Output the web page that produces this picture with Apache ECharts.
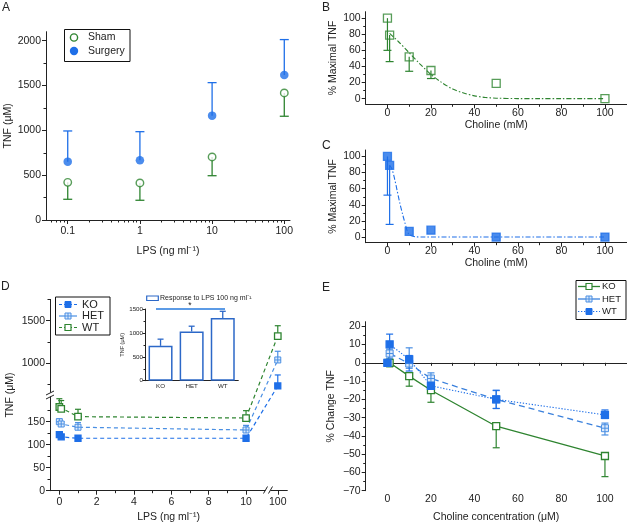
<!DOCTYPE html>
<html><head><meta charset="utf-8">
<script src="https://cdn.jsdelivr.net/npm/echarts@6/dist/echarts.min.js"></script>
<style>html,body{margin:0;padding:0;background:#fff}#c{width:627px;height:524px}</style>
</head><body><div id="c"></div>
<script>
// ---------- Panel A ----------
const lpsA = [0.1, 1, 10, 100];
const shamTNF = [420, 413, 703, 1417];
const shamLow = [231, 220, 494, 1157];
const surgeryTNF = [651, 666, 1164, 1618];
const surgeryHigh = [993, 985, 1532, 2012];
const ticksA_Y = [0, 500, 1000, 1500, 2000];
const minorA_Y = [250, 750, 1250, 1750];
const ticksA_X = [0.1, 1, 10, 100];
const minorA_X = [0.06,0.07,0.08,0.09,0.2,0.3,0.4,0.5,0.6,0.7,0.8,0.9,2,3,4,5,6,7,8,9,20,30,40,50,60,70,80,90];
// ---------- Panel B ----------
const cholineB = [0, 1, 10, 20, 50, 100];
const maxTNF_B = [100, 79, 52, 35, 19, 0];
const lowB = [60, 46, 34, 25, null, null];
const fitB_x = [1, 5, 10, 15, 20, 25, 30, 35, 40, 45, 50, 60, 70, 80, 90, 100];
const fitB_y = [81, 71, 57, 43, 30, 20, 12, 7, 3.5, 1.5, 0.6, 0.1, 0, 0, 0, 0];
// ---------- Panel C ----------
const cholineC = [0, 1, 10, 20, 50, 100];
const maxTNF_C = [100, 89, 7, 8.5, 0, 0];
const lowC = [52, 15.7, null, null, null, null];
const fitC_x = [1, 2, 3.4, 4.5, 5.7, 7, 8, 9.5, 11, 13, 16, 30, 50, 70, 100];
const fitC_y = [89, 85, 71, 57, 42, 28, 18, 5, 1.5, 0.3, 0, 0, 0, 0, 0];
const ticksBC_X = [0, 20, 40, 60, 80, 100];
const minorBC_X = [10, 30, 50, 70, 90];
const ticksBC_Y = [0, 20, 40, 60, 80, 100];
const minorBC_Y = [10, 30, 50, 70, 90];
// ---------- Panel D ----------
const lpsD = [0, 0.1, 1, 10, 100];
const koD = [122, 117, 114, 114, 734];
const koD_hi = [126, 121, 117, 117, 863];
const hetD = [150, 145, 138, 132, 1039];
const hetD_hi = [156, 150, 148, 142, 1141];
const wtD = [182, 178, 161, 158, 1320];
const wtD_hi = [200, 196, 177, 174, 1441];
const ticksD_Y = [0, 50, 100, 150, 1000, 1500];
const minorD_Y = [25, 75, 125, 175, 750, 1250, 1750];
const ticksD_X = [0, 2, 4, 6, 8, 10, 100];
const minorD_X = [1, 3, 5, 7, 9];
// inset
const insetCats = ['KO', 'HET', 'WT'];
const insetTNF = [729, 1029, 1313];
const insetHi = [869, 1140, 1452];
// ---------- Panel E ----------
const cholE = [0, 1, 10, 20, 50, 100];
const koE = [null, 0, -7.3, -15, -34.7, -51];
const koE_lo = [null, -2.2, -12.8, -21.6, -46.5, -62.3];
const hetE = [0, 5.1, -0.4, -8.6, -20, -35.8];
const hetE_hi = [null, 7.5, 8.2, -5.5, -15.2, -33];
const hetE_lo = [null, 2.5, -3, -11.5, -25, -39.5];
const wtE = [0, 10.1, 1.9, -12.6, -20, -28.5];
const wtE_hi = [null, 15.7, 4, -10.5, -15, -25.8];
const wtE_lo = [null, 4.5, -4.5, -14.5, -25, -30.5];
const ticksE_Y = [-70, -60, -50, -40, -30, -20, -10, 0, 10, 20];
const minorE_Y = [-65, -55, -45, -35, -25, -15, -5, 5, 15];
const ticksE_X = [0, 20, 40, 60, 80, 100];
const zeroTicksE_X = [0, 10, 20, 30, 40, 50, 60, 70, 80, 90, 100];

// ---------- helpers ----------
const FONT = '"Liberation Sans", Arial, sans-serif';
const GREEN = '#2e8430', BLUE = '#1e6fe8', LBLUE = '#4a8fe3', AX = '#222';
const HETPATH = 'path://M0 0H10V10H0Z M5 0V10 M0 5H10';
const plain = v => String(v);

// D panel broken-axis transforms (display units)
function dY(v) { return v <= 400 ? v : 277 + (v - 1000) * 0.1852; }
function invY(d) { return d <= 250 ? d : 1000 + (d - 277) / 0.1852; }
function dX(v) { return v <= 10.5 ? v : 11.7 + (v - 100) * 0.01; }
function invX(d) { return d <= 10.5 ? d : 100; }

function ax(gi, min, max, ticks, labels, fmt, o) {
  o = o || {};
  return {
    type: 'value', gridIndex: gi, min: min, max: max, position: o.position,
    axisLine: {show: o.line !== false, onZero: !!o.onZero, onZeroAxisIndex: o.onZeroAxisIndex,
      lineStyle: {color: AX, width: 1}},
    axisTick: {show: !!ticks, customValues: ticks || undefined, length: o.tickLen || 4,
      lineStyle: {color: AX, width: 1}},
    axisLabel: {show: !!labels, customValues: labels || undefined, formatter: fmt || plain, color: AX,
      fontSize: o.fs || 10.5, fontFamily: FONT, margin: (o.margin != null ? o.margin : 5)},
    splitLine: {show: false},
    name: o.name, nameLocation: 'middle', nameGap: o.nameGap, nameRotate: o.nameRotate,
    nameTextStyle: {color: AX, fontSize: o.nfs || 10.5, fontFamily: FONT}
  };
}
function minor(gi, min, max, ticks, pos) {
  return ax(gi, min, max, ticks, null, null, {line: false, tickLen: 2.5, position: pos});
}
function errBars(xi, yi, rowsData, color, cap, lw) {
  return {
    type: 'custom', xAxisIndex: xi, yAxisIndex: yi, z: 1, silent: true, data: rowsData,
    renderItem: function (p, api) {
      const a = api.coord([api.value(0), api.value(1)]);
      const b = api.coord([api.value(0), api.value(2)]);
      const s = {stroke: color, lineWidth: lw || 1.2};
      return {type: 'group', children: [
        {type: 'line', shape: {x1: a[0], y1: a[1], x2: b[0], y2: b[1]}, style: s},
        {type: 'line', shape: {x1: b[0] - cap / 2, y1: b[1], x2: b[0] + cap / 2, y2: b[1]}, style: s}
      ]};
    }
  };
}
function rows(xs, ys, ends, fx, fy) {
  fx = fx || (v => v); fy = fy || (v => v);
  const r = [];
  xs.forEach((x, i) => { if (ends[i] != null && ys[i] != null) r.push([fx(x), fy(ys[i]), fy(ends[i])]); });
  return r;
}
function pairs(xs, ys, fx, fy) {
  fx = fx || (v => v); fy = fy || (v => v);
  return xs.map((x, i) => [fx(x), ys[i] == null ? null : fy(ys[i])]).filter(p => p[1] != null);
}
const log10 = v => Math.log10(v);
const fmtLog = v => String(+Math.pow(10, v).toPrecision(2));

// ---------- grids ----------
const grids = [
  {left: 46, top: 31.7, width: 244, height: 188.3},
  {left: 365.7, top: 11.7, width: 261, height: 92.6},
  {left: 365.7, top: 150, width: 261, height: 92.7},
  {left: 50, top: 299.4, width: 237.3, height: 191.3},
  {left: 145, top: 309, width: 93.3, height: 71.7},
  {left: 365.7, top: 321.7, width: 261, height: 169}
];

const xAxes = [
  ax(0, log10(0.05), log10(120), ticksA_X.map(log10), ticksA_X.map(log10), fmtLog,
     {name: 'LPS (ng ml\u207B\u00B9)', nameGap: 26, margin: 6}),
  minor(0, log10(0.05), log10(120), minorA_X.map(log10), 'bottom'),
  ax(1, -10, 110, ticksBC_X, ticksBC_X, null, {name: 'Choline (mM)', nameGap: 14, margin: 3}),
  minor(1, -10, 110, minorBC_X, 'bottom'),
  ax(2, -10, 110, ticksBC_X, ticksBC_X, null, {name: 'Choline (mM)', nameGap: 14, margin: 3}),
  minor(2, -10, 110, minorBC_X, 'bottom'),
  ax(3, -0.5, 12.21, ticksD_X.map(dX), ticksD_X.map(dX), v => String(Math.round(invX(v))),
     {name: 'LPS (ng ml\u207B\u00B9)', nameGap: 21, margin: 6}),
  minor(3, -0.5, 12.21, minorD_X.map(dX), 'bottom'),
  {type: 'category', gridIndex: 4, data: insetCats, boundaryGap: true,
   axisLine: {onZero: false, lineStyle: {color: AX, width: 1}}, axisTick: {show: false},
   axisLabel: {color: AX, fontSize: 6.2, fontFamily: FONT, margin: 3}, splitLine: {show: false}},
  ax(5, -10, 110, null, ticksE_X, null, {line: false, position: 'bottom',
     name: 'Choline concentration (\u03BCM)', nameGap: 21, margin: 3}),
  ax(5, -10, 110, zeroTicksE_X, null, null, {position: 'bottom', onZero: true, onZeroAxisIndex: 9, tickLen: 3})
];

const yAxes = [
  ax(0, 0, 2100, ticksA_Y, ticksA_Y, null, {name: 'TNF (\u03BCM)', nameGap: 32, nameRotate: 90}),
  minor(0, 0, 2100, minorA_Y, 'left'),
  ax(1, -7, 108, ticksBC_Y, ticksBC_Y, null, {name: '% Maximal TNF', nameGap: 27, nameRotate: 90}),
  minor(1, -7, 108, minorBC_Y, 'left'),
  ax(2, -7, 108, ticksBC_Y, ticksBC_Y, null, {name: '% Maximal TNF', nameGap: 27, nameRotate: 90}),
  minor(2, -7, 108, minorBC_Y, 'left'),
  ax(3, 0, dY(1750), ticksD_Y.map(dY), ticksD_Y.map(dY), v => String(Math.round(invY(v) / 50) * 50),
     {name: 'TNF (\u03BCM)', nameGap: 34, nameRotate: 90}),
  minor(3, 0, dY(1750), minorD_Y.map(dY), 'left'),
  {type: 'value', gridIndex: 4, min: 0, max: 1500, interval: 500,
   axisLine: {show: true, onZero: false, lineStyle: {color: AX, width: 1}},
   axisTick: {show: true, length: 2.5, lineStyle: {color: AX}},
   minorTick: {show: true, splitNumber: 2, length: 1.5, lineStyle: {color: AX}},
   axisLabel: {color: AX, fontSize: 6.2, fontFamily: FONT, margin: 2, formatter: plain},
   splitLine: {show: false},
   name: 'TNF (\u03BCM)', nameLocation: 'middle', nameGap: 18, nameRotate: 90,
   nameTextStyle: {color: AX, fontSize: 5.5, fontFamily: FONT}},
  ax(5, -70, 22.5, ticksE_Y, ticksE_Y, v => String(v).replace('-', '\u2212'),
     {name: '% Change TNF', nameGap: 29, nameRotate: 90}),
  minor(5, -70, 22.5, minorE_Y, 'left')
];

function sq(color, fill, size) {
  return {symbol: 'rect', symbolSize: size, itemStyle: {color: fill, borderColor: color, borderWidth: 1.3}};
}

const series = [
  // ---- A ----
  errBars(0, 0, rows(lpsA, shamTNF, shamLow, log10), GREEN, 9, 1.3),
  errBars(0, 0, rows(lpsA, surgeryTNF, surgeryHigh, log10), BLUE, 9, 1.3),
  {type: 'scatter', xAxisIndex: 0, yAxisIndex: 0, z: 3, data: pairs(lpsA, shamTNF, log10),
   symbol: 'circle', symbolSize: 7.5, itemStyle: {color: '#fff', borderColor: GREEN, borderWidth: 1.4}},
  {type: 'scatter', xAxisIndex: 0, yAxisIndex: 0, z: 3, data: pairs(lpsA, surgeryTNF, log10),
   symbol: 'circle', symbolSize: 8.5, itemStyle: {color: BLUE}},
  // ---- B ----
  {type: 'line', xAxisIndex: 2, yAxisIndex: 2, z: 2, data: pairs(fitB_x, fitB_y), smooth: 0.3,
   showSymbol: false, lineStyle: {color: GREEN, width: 1.1, type: [5, 2, 1.5, 2]}},
  errBars(2, 2, rows(cholineB, maxTNF_B, lowB), GREEN, 8, 1.2),
  Object.assign({type: 'scatter', xAxisIndex: 2, yAxisIndex: 2, z: 3, data: pairs(cholineB, maxTNF_B)},
    sq(GREEN, 'rgba(255,255,255,0)', 8)),
  // ---- C ----
  {type: 'line', xAxisIndex: 4, yAxisIndex: 4, z: 2, data: pairs(fitC_x, fitC_y), smooth: 0.3,
   showSymbol: false, lineStyle: {color: BLUE, width: 1.1, type: [5, 2, 1.5, 2]}},
  errBars(4, 4, rows(cholineC, maxTNF_C, lowC), BLUE, 8, 1.2),
  Object.assign({type: 'scatter', xAxisIndex: 4, yAxisIndex: 4, z: 3, data: pairs(cholineC, maxTNF_C)},
    sq(BLUE, BLUE, 8)),
  // ---- D ----
  errBars(6, 6, rows(lpsD, wtD, wtD_hi, dX, dY), GREEN, 6, 1.2),
  errBars(6, 6, rows(lpsD, hetD, hetD_hi, dX, dY), LBLUE, 6, 1.2),
  errBars(6, 6, rows(lpsD, koD, koD_hi, dX, dY), BLUE, 6, 1.2),
  Object.assign({type: 'line', xAxisIndex: 6, yAxisIndex: 6, z: 3, data: pairs(lpsD, wtD, dX, dY),
   lineStyle: {color: GREEN, width: 1.2, type: [4, 3]}}, sq(GREEN, '#fff', 6.5)),
  {type: 'line', xAxisIndex: 6, yAxisIndex: 6, z: 3, data: pairs(lpsD, hetD, dX, dY),
   lineStyle: {color: LBLUE, width: 1.2, type: [4, 3]}, symbol: HETPATH, symbolSize: 6,
   itemStyle: {color: '#dbe9fb', borderColor: LBLUE, borderWidth: 1}},
  Object.assign({type: 'line', xAxisIndex: 6, yAxisIndex: 6, z: 3, data: pairs(lpsD, koD, dX, dY),
   lineStyle: {color: BLUE, width: 1.2, type: [4, 3]}}, sq(BLUE, BLUE, 6)),
  // inset
  {type: 'bar', xAxisIndex: 8, yAxisIndex: 8, data: insetTNF, barWidth: 24, z: 2,
   itemStyle: {color: '#fff', borderColor: '#2c68c8', borderWidth: 1.5}},
  errBars(8, 8, insetCats.map((c, i) => [i, insetTNF[i], insetHi[i]]), '#2c68c8', 6, 1.3),
  // ---- E ----
  errBars(9, 9, rows(cholE, koE, koE_lo), GREEN, 7, 1.2),
  errBars(9, 9, rows(cholE, hetE, hetE_hi).concat(rows(cholE, hetE, hetE_lo)), LBLUE, 7, 1.2),
  errBars(9, 9, rows(cholE, wtE, wtE_hi).concat(rows(cholE, wtE, wtE_lo)), BLUE, 7, 1.2),
  Object.assign({type: 'line', xAxisIndex: 9, yAxisIndex: 9, z: 3, data: pairs(cholE, koE),
   lineStyle: {color: GREEN, width: 1.3}}, sq(GREEN, '#fff', 7)),
  {type: 'line', xAxisIndex: 9, yAxisIndex: 9, z: 3, data: pairs(cholE, hetE),
   lineStyle: {color: '#3a80dc', width: 1.3, type: [6, 4]}, symbol: HETPATH, symbolSize: 7,
   itemStyle: {color: '#dbe9fb', borderColor: LBLUE, borderWidth: 1}},
  Object.assign({type: 'line', xAxisIndex: 9, yAxisIndex: 9, z: 3, data: pairs(cholE, wtE),
   lineStyle: {color: BLUE, width: 1.1, type: [1.3, 1.7]}}, sq(BLUE, BLUE, 7))
];

// ---------- decorations (legends, panel letters, axis breaks) ----------
function T(text, x, y, size, opts) {
  return {type: 'text', silent: true, z: 10,
    style: Object.assign({text: text, x: x, y: y, fill: AX, font: size + 'px ' + FONT,
      align: 'left', verticalAlign: 'middle', textAlign: 'left', textVerticalAlign: 'middle'}, opts || {})};
}
function L(x1, y1, x2, y2, color, w, dash) {
  return {type: 'line', silent: true, z: 10, shape: {x1: x1, y1: y1, x2: x2, y2: y2},
    style: {stroke: color, lineWidth: w || 1, lineDash: dash || null}};
}
function R(x, y, w, h, stroke, fill, lw) {
  return {type: 'rect', silent: true, z: 10, shape: {x: x, y: y, width: w, height: h},
    style: {stroke: stroke, fill: fill, lineWidth: lw || 1}};
}
function hetIcon(cx, cy, s) {
  return [R(cx - s / 2, cy - s / 2, s, s, LBLUE, '#dbe9fb', 1),
    L(cx, cy - s / 2, cx, cy + s / 2, LBLUE, 1), L(cx - s / 2, cy, cx + s / 2, cy, LBLUE, 1)];
}

const graphics = [
  T('A', 2, 8, 12), T('B', 322, 8, 12), T('C', 322, 146, 12), T('D', 1, 287, 12), T('E', 322, 288, 12),
  R(64.5, 29.5, 65.5, 32, '#111', '#fff', 1),
  {type: 'circle', silent: true, z: 11, shape: {cx: 74, cy: 37.5, r: 3.6}, style: {fill: '#fff', stroke: GREEN, lineWidth: 1.4}},
  T('Sham', 88, 37.5, 10.5),
  {type: 'circle', silent: true, z: 11, shape: {cx: 74, cy: 51, r: 4.2}, style: {fill: BLUE}},
  T('Surgery', 88, 51, 10.5),
  R(55.5, 297, 54.5, 38, '#111', '#fff', 1),
  L(59, 304.5, 77, 304.5, BLUE, 1.2, [3, 2]), R(65, 301.5, 6, 6, BLUE, BLUE, 1), T('KO', 82, 304.5, 11),
  L(59, 316, 77, 316, LBLUE, 1.2), ...hetIcon(68, 316, 6), T('HET', 82, 316, 11),
  L(59, 327.5, 77, 327.5, GREEN, 1.2, [3, 2]), R(65, 324.5, 6, 6, GREEN, '#fff', 1.2), T('WT', 82, 327.5, 11),
  R(146.7, 296, 11.6, 4.5, '#2c68c8', '#fff', 1.2),
  T('Response to LPS 100 ng ml\u207B\u00B9', 160, 298.5, 7),
  L(156, 309, 225, 309, '#5c9be6', 2),
  T('*', 190, 305.5, 8.5, {align: 'center', textAlign: 'center'}),
  R(44, 392.5, 12, 4, null, '#fff', 0),
  L(46, 395, 54, 391, AX, 1), L(46, 399, 54, 395, AX, 1),
  R(265.5, 487, 5, 7, null, '#fff', 0),
  L(263.5, 493.5, 267.5, 486.5, AX, 1), L(268.5, 493.5, 272.5, 486.5, AX, 1),
  R(576, 280.5, 50, 39, '#111', '#fff', 1),
  L(578, 286.5, 600, 286.5, GREEN, 1.3), R(586, 283.5, 6, 6, GREEN, '#fff', 1.2), T('KO', 602, 286.5, 9.5),
  L(578, 299, 600, 299, '#3a80dc', 1.3), ...hetIcon(589, 299, 6), T('HET', 602, 299, 9.5),
  L(578, 311.5, 600, 311.5, BLUE, 1.1, [1.3, 1.7]), R(586, 308.5, 6, 6, BLUE, BLUE, 1), T('WT', 602, 311.5, 9.5)
];

const chart = echarts.init(document.getElementById('c'), null, {renderer: 'canvas', width: 627, height: 524});
chart.setOption({
  animation: false,
  backgroundColor: '#fff',
  textStyle: {fontFamily: FONT},
  grid: grids,
  xAxis: xAxes,
  yAxis: yAxes,
  series: series,
  graphic: {elements: graphics}
});
</script></body></html>
